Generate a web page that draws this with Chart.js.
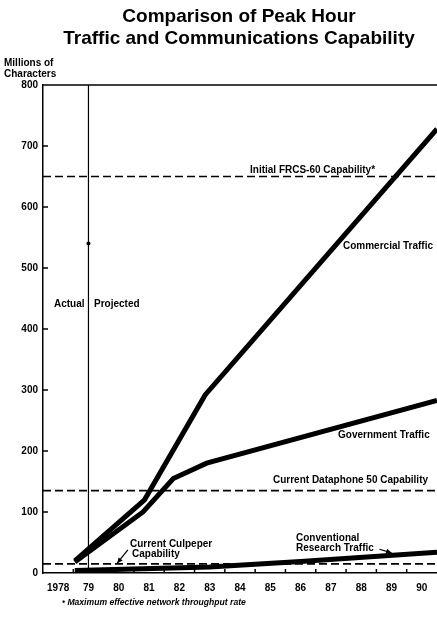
<!DOCTYPE html>
<html>
<head>
<meta charset="utf-8">
<script src="https://cdn.jsdelivr.net/npm/chart.js@4.4.1/dist/chart.umd.min.js"></script>
<style>
  html, body { margin: 0; padding: 0; background: #fff; }
  #wrap { width: 437px; height: 617px; }
</style>
</head>
<body>
<div id="wrap"><canvas id="myChart" width="437" height="617"></canvas></div>
<script>
// years shown on the x axis
const years = [1978, 1979, 1980, 1981, 1982, 1983, 1984, 1985, 1986, 1987, 1988, 1989, 1990];
const yTicks = [0, 100, 200, 300, 400, 500, 600, 700, 800];

// traffic series (millions of characters, peak hour)
const commercialYears = [1978.55, 1980.85, 1982.85, 1990.5];
const commercialValues = [20, 120, 292, 728];
const governmentYears = [1978.55, 1980.8, 1981.8, 1982.9, 1990.5];
const governmentValues = [18, 100, 155, 180, 283];
const researchYears = [1978.55, 1983, 1986, 1990.5];
const researchValues = [4, 10, 19, 34];

// capability levels
const frcsCapability = 650;
const dataphoneCapability = 135;
const culpeperCapability = 15;

const splitYear = 1979;
const strayDot = [1979, 540];

const xMin = 1977.5, xMax = 1990.5;
const FONT = '"Liberation Sans", Arial, sans-serif';

const pts = (xs, ys) => xs.map((x, i) => ({ x: x, y: ys[i] }));
const hline = v => [{ x: xMin, y: v }, { x: xMax, y: v }];

const overlay = {
    id: 'overlay',
    afterDraw(chart) {
        const ctx = chart.ctx;
        const xs = chart.scales.x, ys = chart.scales.y;
        const area = chart.chartArea;
        ctx.save();
        ctx.fillStyle = '#000';
        ctx.strokeStyle = '#000';

        // top frame line
        ctx.lineWidth = 1.5;
        ctx.beginPath();
        ctx.moveTo(area.left, area.top);
        ctx.lineTo(area.right, area.top);
        ctx.stroke();

        // inner tick marks
        yTicks.slice(1, -1).forEach(v => {
            const y = ys.getPixelForValue(v);
            ctx.beginPath();
            ctx.moveTo(area.left, y);
            ctx.lineTo(area.left + 5, y);
            ctx.stroke();
        });
        years.slice(0, -1).forEach(v => {
            const x = xs.getPixelForValue(v + 0.5);
            ctx.beginPath();
            ctx.moveTo(x, area.bottom);
            ctx.lineTo(x, area.bottom - 4);
            ctx.stroke();
        });

        // title
        ctx.textAlign = 'center';
        ctx.textBaseline = 'middle';
        ctx.font = 'bold 19px ' + FONT;
        ctx.fillText('Comparison of Peak Hour', 239, 17);
        ctx.fillText('Traffic and Communications Capability', 239, 39);

        // axis title
        ctx.textAlign = 'left';
        ctx.font = 'bold 10px ' + FONT;
        ctx.fillText('Millions of', 4, 63);
        ctx.fillText('Characters', 4, 74);

        ctx.fillText('Actual', 54, 304);
        ctx.fillText('Projected', 94, 304);
        ctx.fillText('Initial FRCS-60 Capability*', 250, 170);
        ctx.fillText('Commercial Traffic', 343, 246);
        ctx.fillText('Government Traffic', 338, 435);
        ctx.fillText('Current Dataphone 50 Capability', 273, 480);
        ctx.fillText('Conventional', 296, 538);
        ctx.fillText('Research Traffic', 296, 548);
        ctx.fillText('Current Culpeper', 130, 544);
        ctx.fillText('Capability', 132, 554);

        // footnote
        ctx.font = 'italic bold 8.6px ' + FONT;
        ctx.fillText('\u2022 Maximum effective network throughput rate', 62, 603);

        // arrows
        const arrow = (x1, y1, x2, y2) => {
            const a = xs.getPixelForValue(x1), b = ys.getPixelForValue(y1);
            const c = xs.getPixelForValue(x2), d = ys.getPixelForValue(y2);
            ctx.lineWidth = 1.2;
            ctx.beginPath();
            ctx.moveTo(a, b);
            ctx.lineTo(c, d);
            ctx.stroke();
            const ang = Math.atan2(d - b, c - a);
            ctx.beginPath();
            ctx.moveTo(c, d);
            ctx.lineTo(c - 6 * Math.cos(ang - 0.45), d - 6 * Math.sin(ang - 0.45));
            ctx.lineTo(c - 6 * Math.cos(ang + 0.45), d - 6 * Math.sin(ang + 0.45));
            ctx.closePath();
            ctx.fill();
        };
        arrow(1980.3, 38, 1979.95, 16);
        arrow(1988.6, 39, 1989.0, 33);

        ctx.restore();
    }
};

const ctx = document.getElementById('myChart').getContext('2d');

new Chart(ctx, {
    type: 'line',
    data: {
        datasets: [
            { label: 'Commercial Traffic', data: pts(commercialYears, commercialValues), borderColor: '#000', borderWidth: 5 },
            { label: 'Government Traffic', data: pts(governmentYears, governmentValues), borderColor: '#000', borderWidth: 5 },
            { label: 'Conventional Research Traffic', data: pts(researchYears, researchValues), borderColor: '#000', borderWidth: 5 },
            { label: 'Initial FRCS-60 Capability', data: hline(frcsCapability), borderColor: '#000', borderWidth: 1.6, borderDash: [8, 4] },
            { label: 'Current Dataphone 50 Capability', data: hline(dataphoneCapability), borderColor: '#000', borderWidth: 1.6, borderDash: [8, 4] },
            { label: 'Current Culpeper Capability', data: hline(culpeperCapability), borderColor: '#000', borderWidth: 1.6, borderDash: [8, 4] },
            { label: 'Actual / Projected', data: [{ x: splitYear, y: 0 }, { x: splitYear, y: 800 }], borderColor: '#000', borderWidth: 1.2 },
            { label: 'mark', data: [{ x: strayDot[0], y: strayDot[1] }], showLine: false, pointRadius: 2, pointBackgroundColor: '#000', pointBorderWidth: 0 }
        ]
    },
    options: {
        responsive: false,
        animation: false,
        events: [],
        layout: { autoPadding: false, padding: { top: 85, left: 0, right: 0, bottom: 0 } },
        elements: { point: { radius: 0 }, line: { tension: 0, borderCapStyle: 'butt' } },
        plugins: {
            legend: { display: false },
            tooltip: { enabled: false },
            title: { display: false }
        },
        scales: {
            x: {
                type: 'linear',
                min: xMin,
                max: xMax,
                afterBuildTicks: scale => { scale.ticks = years.map(v => ({ value: v })); },
                afterFit: scale => {
                    scale.height = 44;
                    scale.paddingLeft = 0;
                    scale.paddingRight = 0;
                },
                ticks: {
                    padding: 9,
                    color: '#000',
                    font: { family: FONT, size: 10, weight: 'bold' },
                    maxRotation: 0,
                    autoSkip: false,
                    callback: v => v === 1978 ? '1978' : String(v).slice(2)
                },
                grid: { display: false, drawTicks: false },
                border: { display: true, color: '#000', width: 1.5 }
            },
            y: {
                min: 0,
                max: 800,
                afterBuildTicks: scale => { scale.ticks = yTicks.map(v => ({ value: v })); },
                afterFit: scale => {
                    scale.width = 43;
                    scale.paddingTop = 0;
                    scale.paddingBottom = 0;
                },
                ticks: {
                    padding: 5,
                    color: '#000',
                    font: { family: FONT, size: 10, weight: 'bold' }
                },
                grid: { display: false, drawTicks: false },
                border: { display: true, color: '#000', width: 1.5 }
            }
        }
    },
    plugins: [overlay]
});
</script>
</body>
</html>
